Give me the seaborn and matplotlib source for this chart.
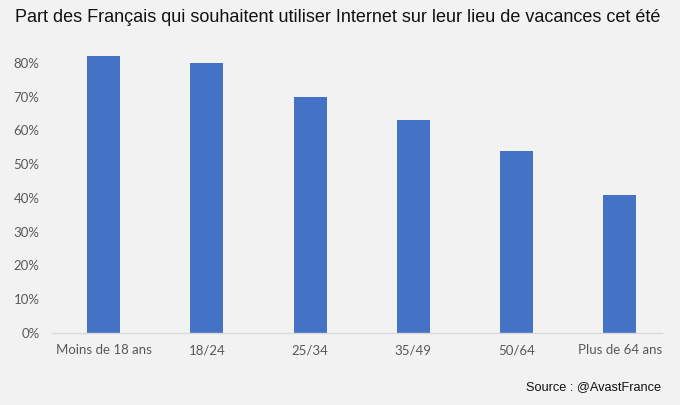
import matplotlib
matplotlib.use("Agg")
import matplotlib.pyplot as plt
import seaborn as sns
import pandas as pd
from matplotlib.ticker import PercentFormatter, FixedLocator

categories = ["Moins de 18 ans", "18/24", "25/34", "35/49", "50/64", "Plus de 64 ans"]
values = [0.82, 0.80, 0.70, 0.63, 0.54, 0.41]
yticks = [0, 0.1, 0.2, 0.3, 0.4, 0.5, 0.6, 0.7, 0.8]
title = "Part des Français qui souhaitent utiliser Internet sur leur lieu de vacances cet été"
source = "Source : @AvastFrance"

df = pd.DataFrame({"cat": categories, "val": values})

sns.set_style("white")
plt.rcParams["font.family"] = ["Lato", "DejaVu Sans"]

bg = "#f2f2f2"
fig = plt.figure(figsize=(6.8, 4.05), dpi=100, facecolor=bg)
ax = fig.add_axes([52/680, 72/405, (662-52)/680, (333-46)/405])
ax.set_facecolor(bg)

sns.barplot(data=df, x="cat", y="val", color="#4472C4", width=0.32,
            saturation=1, ax=ax, edgecolor="none")

ax.set_xlim(-0.5, 5.41)
ax.set_ylim(0, 0.85)
ax.set_yticks(yticks)
ax.yaxis.set_major_formatter(PercentFormatter(1.0, decimals=0))
ax.set_xlabel("")
ax.set_ylabel("")
for s in ["top", "right", "left"]:
    ax.spines[s].set_visible(False)
ax.spines["bottom"].set_color("#d9d9d9")
ax.spines["bottom"].set_linewidth(1)

ax.tick_params(axis="y", length=0, pad=9, labelsize=9.5, labelcolor="#595959")
ax.tick_params(axis="x", which="major", length=0, pad=8, labelsize=9.5, labelcolor="#595959")
ax.xaxis.set_minor_locator(FixedLocator([0.5, 1.5, 2.5, 3.5, 4.5]))
ax.tick_params(axis="x", which="minor", length=4, width=1, color="#d9d9d9", direction="out")

fig.text(15/680, 1 - 17/405, title, family=["Liberation Sans", "DejaVu Sans"],
         fontsize=13, color="#111111", ha="left", va="center")
fig.text(661/680, 1 - 387/405, source, family=["Liberation Sans", "DejaVu Sans"],
         fontsize=9.2, color="#111111", ha="right", va="center")

fig.savefig("out.png", dpi=100, facecolor=bg)
